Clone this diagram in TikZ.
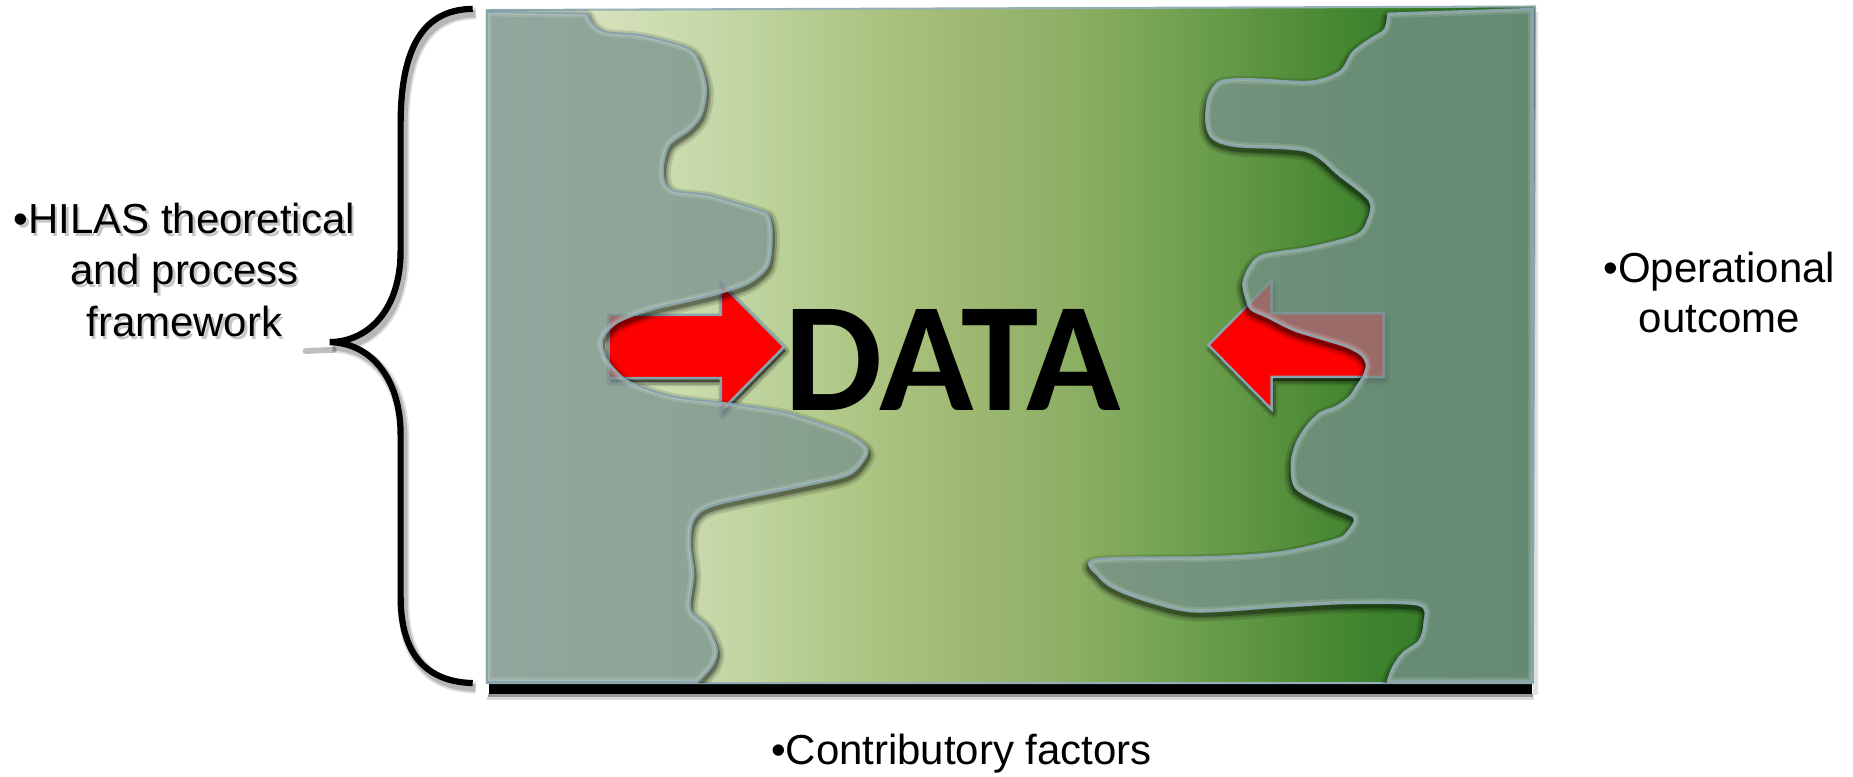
\documentclass[tikz,border=0pt]{standalone}
\usepackage{fontspec}
\setmainfont{Liberation Sans}
\newfontfamily\datafont{Carlito}

\definecolor{slate}{RGB}{119,145,143}
\definecolor{outlineblue}{RGB}{136,164,174}
\definecolor{rectline}{RGB}{150,176,182}

% pale green on the left to deep green on the right (the path box maps to 25bp..75bp)
\pgfdeclarehorizontalshading{datagrad}{100bp}{%
  rgb(0bp)=(0.87,0.91,0.79);
  rgb(25bp)=(0.87,0.91,0.79);
  rgb(31bp)=(0.831,0.878,0.722);
  rgb(36.5bp)=(0.765,0.843,0.647);
  rgb(42bp)=(0.686,0.784,0.529);
  rgb(47.5bp)=(0.627,0.725,0.451);
  rgb(53bp)=(0.549,0.686,0.392);
  rgb(58.5bp)=(0.431,0.627,0.314);
  rgb(64bp)=(0.314,0.549,0.216);
  rgb(67.5bp)=(0.235,0.510,0.176);
  rgb(75bp)=(0.20,0.47,0.16);
  rgb(100bp)=(0.20,0.47,0.16)}

% outlines, in picture units (1 unit = 0.01cm, y grows downwards)
\def\rectpath{(412,8.5) -- (1299,5.5) -- (1297,578) -- (412,578) -- cycle}

\def\leftshape{(412,10) -- plot[smooth,tension=0.5] coordinates {
  (496.4,11.5) (502,21) (513.4,27.2) (544.3,30.2) (582.4,41) (592.4,54.5)
  (597.4,75.4) (593.8,96.4) (584,109) (567,121.5) (561.3,138.2) (561.9,152.9)
  (569.8,161.3) (600.8,165.5) (643.1,178) (650.2,182.2) (653,196.9) (650.2,224)
  (634.6,238.6) (612,247) (584,254) (550,262) (522,273) (509.4,287.7)
  (513.6,304.6) (527.5,320) (541.5,327) (569.5,335.6) (612,341) (654,347)
  (677,352.6) (716.4,366.6) (733.4,379.1) (730.6,389.6) (716.4,402.2)
  (671.3,412.7) (603.6,427.3) (586.7,439.9) (583.9,460.8) (586.7,486)
  (583.9,515.3) (598,530) (606.4,548.8) (603.6,561.4) (595.2,571.8) (590,577)}
  -- (412,577) -- cycle}

\def\rightshape{(1297,7.5) -- plot[smooth,tension=0.5] coordinates {
  (1174.7,11.5) (1171.8,25.1) (1159.1,33.5) (1145,44) (1133.8,60.7) (1108.4,69.1)
  (1057.6,67) (1032.2,69.1) (1022.3,83.8) (1020.9,104.7) (1026.6,117.3)
  (1046.3,123.6) (1105.6,127.8) (1133.8,148.7) (1159.1,169.7) (1157.7,186.4)
  (1147.8,199) (1108.4,209.5) (1069,215.8) (1057.7,225.7) (1052,239.7)
  (1055,253.8) (1059,262) (1071.8,268) (1094.4,279.2) (1117,286.3)
  (1139.5,293.3) (1152.2,300.4) (1156.5,308.9) (1153.6,318.7) (1148,327.2)
  (1142.3,335.7) (1131,344.1) (1117,349.7) (1105.7,361) (1097.2,375.1)
  (1093,391.7) (1096.6,412.7) (1122,427.3) (1145.9,437.8) (1140.3,450.4)
  (1130.4,456.6) (1085.3,467.1) (1028.9,471.3) (927.4,473.4) (930.2,488)
  (944.3,498.5) (972.5,509) (1012,517.4) (1085.3,513.2) (1141.7,510.3)
  (1200.9,511.9) (1205.2,527.9) (1200.9,542.5) (1186.8,553) (1178.3,565.6)
  (1174.1,577)}
  -- (1297,577) -- cycle}

\def\larrow{(515,266.5) -- (610,266.5) -- (610,239.5) -- (663.5,293.5) -- (610,348) -- (610,320) -- (515,320) -- cycle}
\def\rarrow{(1171,265) -- (1076,265) -- (1076,237.5) -- (1022.5,292) -- (1076,346.5) -- (1076,319) -- (1171,319) -- cycle}

\def\bracepath{(400,7.5) .. controls (365,8) and (339,30) .. (339,105) -- (339,212)
  .. controls (339,262) and (312,289) .. (279,289.5)
  .. controls (312,290) and (339,318) .. (339,368) -- (339,505)
  .. controls (339,555) and (362,577) .. (400,578)}

\begin{document}
\begin{tikzpicture}[x=0.01cm, y=-0.01cm,
  lbl/.style={font=\fontsize{10.1}{12}\selectfont, inner sep=0pt, anchor=base},
  lblshadow/.style={lbl, text=black, opacity=#1},
  outlinestyle/.style={draw=outlineblue, line width=0.5pt, line join=round},
  arrowoutline/.style={draw=outlineblue, line width=0.6pt, line join=miter},
  slatefill/.style={fill=slate, fill opacity=0.74},
  datastyle/.style={font=\datafont\bfseries\fontsize{37.5}{40}\selectfont, inner sep=0pt, anchor=base}]

\fill[white] (0,0) rectangle (1568,657);
\useasboundingbox (0,0) rectangle (1568,657);

% ---- panel: drop shadow, gradient, rim
\fill[black] (414,576) rectangle (1296,587);
\fill[black, opacity=0.4] (413,587) rectangle (1297,589.5);
\fill[black, opacity=0.15] (412,589.5) rectangle (1298,592.5);
\fill[black, opacity=0.12] (1297,10) rectangle (1301.5,588);
\shade[shading=datagrad] \rectpath;
\draw[rectline, line width=0.5pt] \rectpath;

% ---- arrows with their soft shadows
\begin{scope}[shift={(1.5,3.5)}]
  \fill[black, opacity=0.5] \larrow;
  \draw[black, opacity=0.12, line width=2pt, line join=round] \larrow;
  \draw[black, opacity=0.18, line width=1.2pt, line join=round] \larrow;
  \fill[black, opacity=0.5] \rarrow;
  \draw[black, opacity=0.12, line width=2pt, line join=round] \rarrow;
  \draw[black, opacity=0.18, line width=1.2pt, line join=round] \rarrow;
\end{scope}
\fill[red] \larrow;
\draw[arrowoutline] \larrow;
\fill[red] \rarrow;
\draw[arrowoutline] \rarrow;

% ---- left region
\begin{scope}[even odd rule]
  \clip \rectpath \leftshape;
  \begin{scope}[shift={(1,3)}]
    \draw[black, opacity=0.12, line width=3.2pt, line join=round] \leftshape;
    \draw[black, opacity=0.18, line width=2pt, line join=round] \leftshape;
    \draw[black, opacity=0.3, line width=1pt, line join=round] \leftshape;
  \end{scope}
\end{scope}
\fill[slatefill] \leftshape;
\begin{scope}
  \clip \leftshape;
  \draw[white, opacity=0.12, line width=2.2pt] \leftshape;
  \draw[white, opacity=0.18, line width=1.1pt] \leftshape;
\end{scope}
\draw[outlinestyle] \leftshape;

% ---- right region
\begin{scope}[even odd rule]
  \clip \rectpath \rightshape;
  \begin{scope}[shift={(-0.5,3)}]
    \draw[black, opacity=0.12, line width=3.2pt, line join=round] \rightshape;
    \draw[black, opacity=0.18, line width=2pt, line join=round] \rightshape;
    \draw[black, opacity=0.3, line width=1pt, line join=round] \rightshape;
  \end{scope}
\end{scope}
\fill[slatefill] \rightshape;
\begin{scope}
  \clip \rightshape;
  \draw[white, opacity=0.12, line width=2.2pt] \rightshape;
  \draw[white, opacity=0.18, line width=1.1pt] \rightshape;
\end{scope}
\draw[outlinestyle] \rightshape;

% ---- central word
\node[datastyle] (data) at (806,347) {DATA};

% ---- brace with its shadow
\begin{scope}[shift={(2.5,4)}]
  \draw[black, opacity=0.12, line width=2.8pt] \bracepath;
  \draw[black, opacity=0.18, line width=1.9pt] \bracepath;
  \draw[black, opacity=0.25, line width=1.4pt, line cap=round] (256,293) -- (280,292);
\end{scope}
\draw[black, line width=1.5pt] \bracepath;

% ---- labels
\node[lblshadow=0.22] (hilasAs) at (158,200.5) {•HILAS theoretical};
\node[lblshadow=0.22] (hilasBs) at (158,243.5) {and process};
\node[lblshadow=0.22] (hilasCs) at (158,287.5) {framework};
\node[lbl] (hilasA) at (156,197.7) {•HILAS theoretical};
\node[lbl] (hilasB) at (156,240.9) {and process};
\node[lbl] (hilasC) at (156,284.9) {framework};

\node[lbl] (operA) at (1455,238.8) {•Operational};
\node[lbl] (operB) at (1455,281.5) {outcome};

\node[lbl] (contrib) at (813.6,647.3) {•Contributory factors};
\end{tikzpicture}
\end{document}
